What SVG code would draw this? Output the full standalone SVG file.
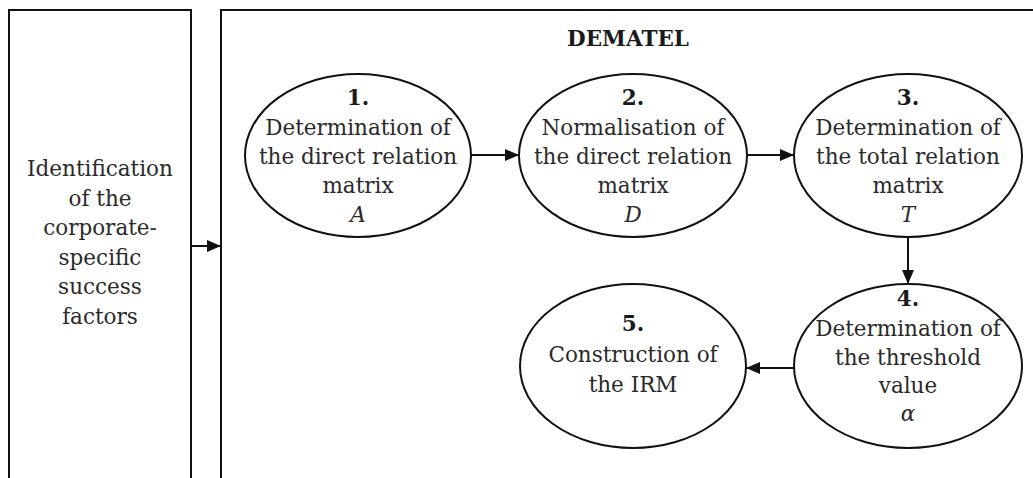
<svg xmlns="http://www.w3.org/2000/svg" width="1033" height="478" viewBox="0 0 1033 478">
  <style>
    .box { fill: none; stroke: #111; stroke-width: 2; }
    .node ellipse { fill: #fff; stroke: #111; stroke-width: 2; }
    .conn line { stroke: #111; stroke-width: 2; }
    text { font-family: "DejaVu Serif", serif; font-size: 21.5px; fill: #2a2a2a; text-anchor: middle; }
    .num { font-weight: bold; fill: #1a1a1a; }
    .var { font-style: italic; }
  </style>
  <defs>
    <marker id="arrow" viewBox="0 0 14 12" refX="14" refY="6" markerWidth="14" markerHeight="12" markerUnits="userSpaceOnUse" orient="auto">
      <path d="M0,0 L14,6 L0,12 z" fill="#111"/>
    </marker>
  </defs>

  <g id="identification">
    <path class="box" d="M9,478 V10 H191 V478"/>
    <text x="100" y="176">Identification</text>
    <text x="100" y="205.5">of the</text>
    <text x="100" y="235">corporate-</text>
    <text x="100" y="264.5">specific</text>
    <text x="100" y="294">success</text>
    <text x="100" y="323.5">factors</text>
  </g>

  <g id="dematel">
    <path class="box" d="M221,478 V10 H1033"/>
    <text x="628" y="46" class="num">DEMATEL</text>
  </g>

  <g id="step1" class="node">
    <ellipse cx="358" cy="155.5" rx="113" ry="81.5"/>
    <text x="358" y="105" class="num">1.</text>
    <text x="358" y="135">Determination of</text>
    <text x="358" y="164">the direct relation</text>
    <text x="358" y="193">matrix</text>
    <text x="358" y="222" class="var">A</text>
  </g>

  <g id="step2" class="node">
    <ellipse cx="633" cy="155.5" rx="114" ry="81.5"/>
    <text x="633" y="105" class="num">2.</text>
    <text x="633" y="135">Normalisation of</text>
    <text x="633" y="164">the direct relation</text>
    <text x="633" y="193">matrix</text>
    <text x="633" y="222" class="var">D</text>
  </g>

  <g id="step3" class="node">
    <ellipse cx="908" cy="155.5" rx="114" ry="81.5"/>
    <text x="908" y="105" class="num">3.</text>
    <text x="908" y="135">Determination of</text>
    <text x="908" y="164">the total relation</text>
    <text x="908" y="193">matrix</text>
    <text x="908" y="222" class="var">T</text>
  </g>

  <g id="step4" class="node">
    <ellipse cx="908" cy="366" rx="114" ry="82"/>
    <text x="908" y="306" class="num">4.</text>
    <text x="908" y="336">Determination of</text>
    <text x="908" y="365">the threshold</text>
    <text x="908" y="393">value</text>
    <text x="908" y="421" class="var">α</text>
  </g>

  <g id="step5" class="node">
    <ellipse cx="633" cy="366" rx="113" ry="82"/>
    <text x="633" y="331" class="num">5.</text>
    <text x="633" y="362">Construction of</text>
    <text x="633" y="392">the IRM</text>
  </g>

  <g id="connectors" class="conn">
    <line x1="191" y1="246" x2="221" y2="246" marker-end="url(#arrow)"/>
    <line x1="471" y1="155" x2="519" y2="155" marker-end="url(#arrow)"/>
    <line x1="747" y1="155" x2="794" y2="155" marker-end="url(#arrow)"/>
    <line x1="908" y1="237" x2="908" y2="284" marker-end="url(#arrow)"/>
    <line x1="794" y1="368" x2="746" y2="368" marker-end="url(#arrow)"/>
  </g>
</svg>
